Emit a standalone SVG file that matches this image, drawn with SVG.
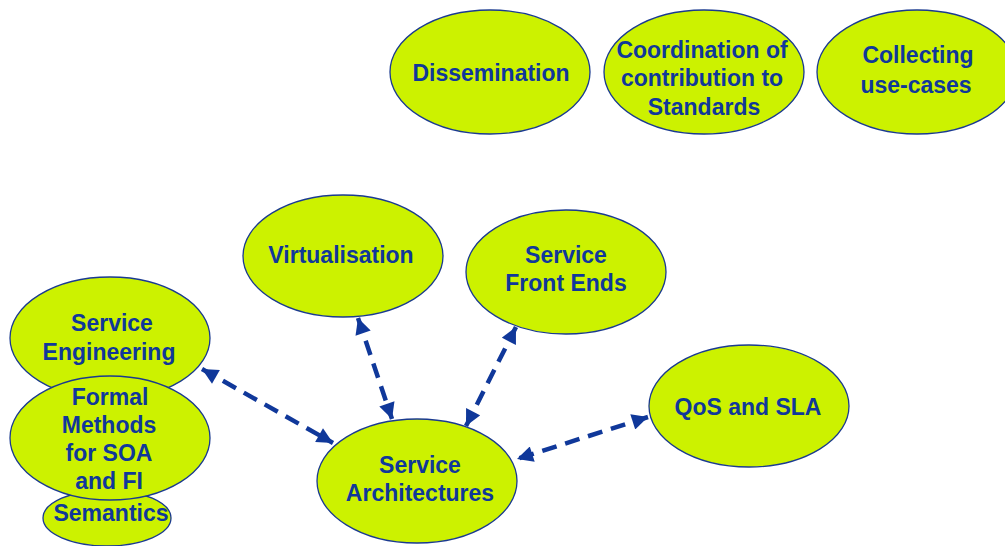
<svg xmlns="http://www.w3.org/2000/svg" width="1005" height="546" viewBox="0 0 1005 546">
<defs>
<style>
.n{fill:#CCF200;stroke:#1A3A8F;stroke-width:1.3}
.t{font-family:"Liberation Sans",Arial,sans-serif;font-weight:bold;font-size:23px;fill:#10389A;text-anchor:middle}
.c{stroke:#10389A;stroke-width:4.5;stroke-dasharray:15 9;fill:none}
</style>
<marker id="ah" viewBox="0 0 10 10" refX="10" refY="5" markerWidth="17" markerHeight="16" markerUnits="userSpaceOnUse" orient="auto-start-reverse">
<path d="M0,0 L10,5 L0,10 Z" fill="#10389A"/>
</marker>
</defs>
<rect width="1005" height="546" fill="#FFFFFF"/>
<g id="dissemination"><ellipse class="n" cx="490" cy="72" rx="100" ry="62"/><text class="t" x="491" y="81">Dissemination</text></g>
<g id="coordination"><ellipse class="n" cx="704" cy="72" rx="100" ry="62"/><text class="t" x="702" y="58">Coordination of</text><text class="t" x="702" y="86">contribution to</text><text class="t" x="704" y="115">Standards</text></g>
<g id="collecting"><ellipse class="n" cx="917" cy="72" rx="100" ry="62"/><text class="t" x="918" y="63">Collecting</text><text class="t" x="916" y="93">use-cases</text></g>
<g id="virtualisation"><ellipse class="n" cx="343" cy="256" rx="100" ry="61"/><text class="t" x="341" y="263">Virtualisation</text></g>
<g id="front-ends"><ellipse class="n" cx="566" cy="272" rx="100" ry="62"/><text class="t" x="566" y="263">Service</text><text class="t" x="566" y="291">Front Ends</text></g>
<g id="service-engineering"><ellipse class="n" cx="110" cy="338" rx="100" ry="61"/><text class="t" x="112" y="331">Service</text><text class="t" x="109" y="360">Engineering</text></g>
<g id="semantics"><ellipse class="n" cx="107" cy="518" rx="64" ry="28"/><text class="t" x="111" y="521">Semantics</text></g>
<g id="formal-methods"><ellipse class="n" cx="110" cy="438" rx="100" ry="62"/><text class="t" x="110" y="405">Formal</text><text class="t" x="109" y="433">Methods</text><text class="t" x="109" y="461">for SOA</text><text class="t" x="109" y="489">and FI</text></g>
<g id="qos"><ellipse class="n" cx="749" cy="406" rx="100" ry="61"/><text class="t" x="748" y="415">QoS and SLA</text></g>
<g id="service-architectures"><ellipse class="n" cx="417" cy="481" rx="100" ry="62"/><text class="t" x="420" y="473">Service</text><text class="t" x="420" y="501">Architectures</text></g>
<g id="connectors">
<line class="c" x1="202" y1="369" x2="333" y2="443" marker-start="url(#ah)" marker-end="url(#ah)"/>
<line class="c" x1="358" y1="318" x2="392" y2="419" marker-start="url(#ah)" marker-end="url(#ah)"/>
<line class="c" x1="516" y1="327" x2="466" y2="426" marker-start="url(#ah)" marker-end="url(#ah)"/>
<line class="c" x1="648" y1="417" x2="517" y2="459" marker-start="url(#ah)" marker-end="url(#ah)"/>
</g>
</svg>
